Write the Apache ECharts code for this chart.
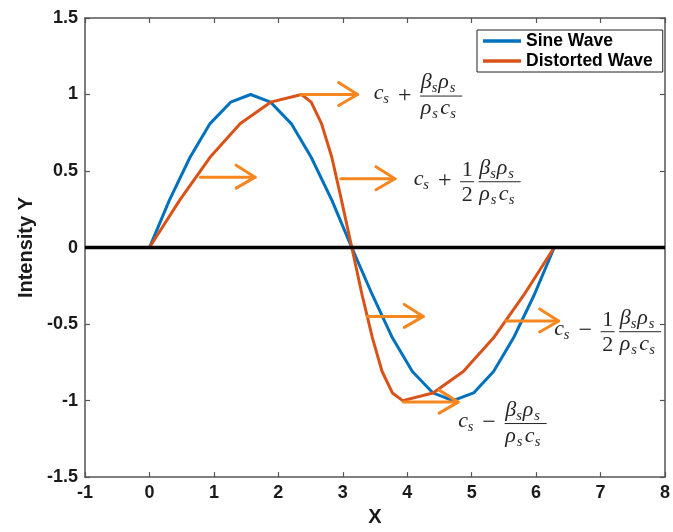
<!DOCTYPE html>
<html>
<head>
<meta charset="utf-8">
<script src="https://cdn.jsdelivr.net/npm/echarts@6/dist/echarts.min.js"></script>
<style>html,body{margin:0;padding:0;background:#fff}#c{width:673px;height:532px}</style>
</head>
<body>
<div id="c"></div>
<script>
// ---- data ----
const sineX = [0, 0.31, 0.63, 0.94, 1.26, 1.57, 1.88, 2.20, 2.51, 2.83, 3.14, 3.46, 3.77, 4.08, 4.40, 4.71, 5.03, 5.34, 5.65, 5.97, 6.28];
const sineY = [0, 0.31, 0.59, 0.81, 0.95, 1, 0.95, 0.81, 0.59, 0.31, 0, -0.31, -0.59, -0.81, -0.95, -1, -0.95, -0.81, -0.59, -0.31, 0];
const distX = [0, 0.47, 0.94, 1.41, 1.88, 2.36, 2.51, 2.67, 2.83, 2.98, 3.14, 3.30, 3.46, 3.61, 3.77, 3.93, 4.40, 4.87, 5.34, 5.81, 6.28];
const distY = [0, 0.31, 0.59, 0.81, 0.95, 1, 0.95, 0.81, 0.59, 0.31, 0, -0.31, -0.59, -0.81, -0.95, -1, -0.95, -0.81, -0.59, -0.31, 0];
const zeroLineX = [-1, 8];
const zeroLineY = [0, 0];

// arrows (data coordinates)
const arrowStartX = [2.35, 0.79, 2.97, 3.38, 5.53, 3.94];
const arrowEndX   = [3.23, 1.64, 3.81, 4.25, 6.35, 4.79];
const arrowY      = [1.00, 0.46, 0.45, -0.45, -0.48, -1.01];

// math annotations (anchor = left of c_s, y = fraction bar)
const labelX    = [3.48, 4.10, 6.28, 4.79];
const labelY    = [0.99, 0.43, -0.55, -1.15];
const labelSign = ['+', '+', '\u2212', '\u2212'];
const labelHalf = [false, true, true, false];

const seriesNames = ['Sine Wave', 'Distorted Wave'];
const xTickMin = -1, xTickMax = 8, xTickStep = 1;
const yTickMin = -1.5, yTickMax = 1.5, yTickStep = 0.5;

// ---- styles ----
const BLUE = '#0072BD', ORANGE = '#D95319', ARROW = '#F6861F';
const AXIS = '#555555', TXT = '#1a1a1a', MATH = '#262626';
const SANS = '"Liberation Sans", Arial, sans-serif';
const SERIF = '"Liberation Serif", "Times New Roman", serif';

const pairs = (xs, ys) => xs.map((x, i) => [x, ys[i]]);

function txt(str, x, baseline, fs, italic, align) {
  return {
    type: 'text', x: x, y: baseline - 0.34 * fs,
    style: {
      text: str, fill: MATH,
      font: (italic ? 'italic ' : '') + fs + 'px ' + SERIF,
      align: align || 'left', verticalAlign: 'middle'
    }
  };
}

function renderLabel(params, api) {
  const i = params.dataIndex;
  const p = api.coord([api.value(0), api.value(1)]);
  const L = p[0], A = p[1];
  const M = 22, S = 14.5;
  const ch = [];
  ch.push(txt('c', L, A + 5, M, true));
  ch.push(txt('s', L + 9.5, A + 8.5, S, true));
  ch.push(txt(labelSign[i], L + 31, A + 7.5, 24, false, 'center'));
  let G = L + 46.5;
  if (labelHalf[i]) {
    ch.push(txt('1', G + 7, A - 4, M, false, 'center'));
    ch.push(txt('2', G + 7, A + 20.5, M, false, 'center'));
    ch.push({type: 'line', shape: {x1: G, y1: A, x2: G + 14, y2: A}, style: {stroke: MATH, lineWidth: 1}});
    G += 18.5;
  }
  ch.push({type: 'line', shape: {x1: G, y1: A, x2: G + 42, y2: A}, style: {stroke: MATH, lineWidth: 1}});
  ch.push(txt('\u03B2', G + 0.5, A - 6, M, true));
  ch.push(txt('s', G + 11.5, A - 2.5, S, true));
  ch.push(txt('\u03C1', G + 18, A - 6, M, true));
  ch.push(txt('s', G + 29.5, A - 2.5, S, true));
  ch.push(txt('\u03C1', G + 0.5, A + 20, M, true));
  ch.push(txt('s', G + 12, A + 23.5, S, true));
  ch.push(txt('c', G + 20, A + 20, M, true));
  ch.push(txt('s', G + 30, A + 23.5, S, true));
  return {type: 'group', children: ch};
}

function renderArrow(params, api) {
  const s = api.coord([api.value(0), api.value(1)]);
  const e = api.coord([api.value(2), api.value(1)]);
  const st = {stroke: ARROW, lineWidth: 3, fill: null, lineCap: 'round', lineJoin: 'round'};
  return {
    type: 'group', children: [
      {type: 'line', shape: {x1: s[0], y1: s[1], x2: e[0], y2: e[1]}, style: st},
      {type: 'polyline', shape: {points: [[e[0] - 19, e[1] - 12], [e[0], e[1]], [e[0] - 19, e[1] + 11]]}, style: st}
    ]
  };
}

const axisCommon = {
  type: 'value',
  axisLine: {show: true, onZero: false, lineStyle: {color: AXIS, width: 1.5}},
  axisTick: {show: true, inside: true, length: 5, lineStyle: {color: AXIS, width: 1.2}},
  splitLine: {show: false}
};
const labelFont = {fontFamily: SANS, fontWeight: 'bold', fontSize: 18, color: TXT};

const option = {
  animation: false,
  backgroundColor: '#fff',
  grid: {left: 85, right: 1.3, top: 18, bottom: 50, containLabel: false},
  legend: {
    data: seriesNames,
    orient: 'vertical', left: 477, top: 30,
    padding: [2, 10, 2, 6], itemGap: 2,
    icon: 'rect', itemWidth: 38, itemHeight: 3.5,
    borderColor: '#222', borderWidth: 1, backgroundColor: '#fff',
    textStyle: {fontFamily: SANS, fontWeight: 'bold', fontSize: 17.5, color: '#000', lineHeight: 18}
  },
  xAxis: [
    Object.assign({}, axisCommon, {
      min: xTickMin, max: xTickMax, interval: xTickStep, position: 'bottom',
      axisLabel: Object.assign({margin: 7}, labelFont),
      name: 'X', nameLocation: 'middle', nameGap: 28,
      nameTextStyle: {fontFamily: SANS, fontWeight: 'bold', fontSize: 20, color: TXT}
    }),
    Object.assign({}, axisCommon, {
      min: xTickMin, max: xTickMax, interval: xTickStep, position: 'top',
      axisLabel: {show: false}
    })
  ],
  yAxis: [
    Object.assign({}, axisCommon, {
      min: yTickMin, max: yTickMax, interval: yTickStep, position: 'left',
      axisLabel: Object.assign({margin: 7}, labelFont),
      name: 'Intensity Y', nameLocation: 'middle', nameGap: 46,
      nameTextStyle: {fontFamily: SANS, fontWeight: 'bold', fontSize: 20, color: TXT}
    }),
    Object.assign({}, axisCommon, {
      min: yTickMin, max: yTickMax, interval: yTickStep, position: 'right',
      axisLabel: {show: false}
    })
  ],
  series: [
    {
      name: seriesNames[0], type: 'line', data: pairs(sineX, sineY),
      showSymbol: false, color: BLUE, lineStyle: {color: BLUE, width: 3}, z: 2, silent: true
    },
    {
      name: seriesNames[1], type: 'line', data: pairs(distX, distY),
      showSymbol: false, color: ORANGE, lineStyle: {color: ORANGE, width: 3}, z: 2, silent: true
    },
    {
      name: 'zero', type: 'line', data: pairs(zeroLineX, zeroLineY),
      showSymbol: false, color: '#000', lineStyle: {color: '#000', width: 3.5}, z: 3, silent: true
    },
    {
      name: 'arrows', type: 'custom', renderItem: renderArrow,
      data: arrowStartX.map((x, i) => [x, arrowY[i], arrowEndX[i]]),
      encode: {x: [0, 2], y: 1}, z: 4, silent: true
    },
    {
      name: 'labels', type: 'custom', renderItem: renderLabel,
      data: labelX.map((x, i) => [x, labelY[i]]),
      encode: {x: 0, y: 1}, z: 5, silent: true
    }
  ]
};

const chart = echarts.init(document.getElementById('c'), null, {renderer: 'canvas'});
chart.setOption(option);
</script>
</body>
</html>
